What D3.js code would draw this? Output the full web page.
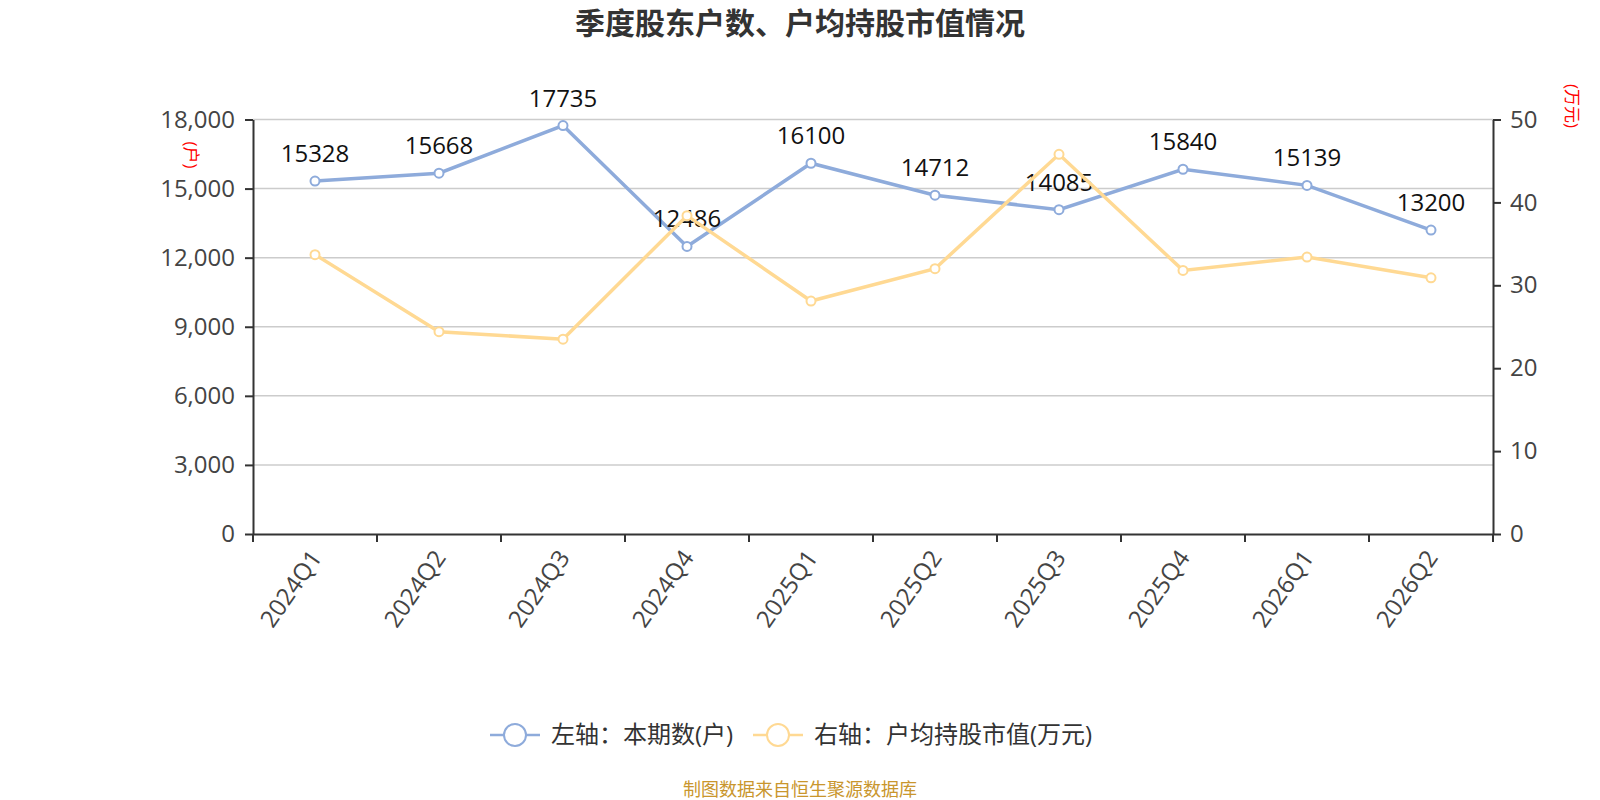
<!DOCTYPE html>
<meta charset="UTF-8">
<style>
body { margin: 0; background: #fff; }
text { font-family: "Open Sans", "Noto Sans CJK SC", sans-serif; }
.grid line { stroke: #cccccc; stroke-width: 1.5px; }
.axis path, .axis line { stroke: #333; stroke-width: 2px; }
.axis text { fill: #444; font-size: 24px; }
</style>
<body>
<script src="https://d3js.org/d3.v7.min.js"></script>
<script>

// data
var quarters = ["2024Q1", "2024Q2", "2024Q3", "2024Q4", "2025Q1", "2025Q2", "2025Q3", "2025Q4", "2026Q1", "2026Q2"];
var holders = [15328, 15668, 17735, 12486, 16100, 14712, 14085, 15840, 15139, 13200];
var avgValue = [33.7, 24.4, 23.5, 38.4, 28.1, 32.0, 45.8, 31.8, 33.4, 30.9];
var leftTicks = [0, 3000, 6000, 9000, 12000, 15000, 18000];
var rightTicks = [0, 10, 20, 30, 40, 50];

var blue = "#8eabdb",
    orange = "#ffd993";

var width = 1600, height = 800;
var plot = {left: 253, right: 1493, top: 119.5, bottom: 534};

var svg = d3.select("body").append("svg")
    .attr("width", width)
    .attr("height", height);

var x = d3.scaleBand().domain(quarters).range([plot.left, plot.right]);
var yL = d3.scaleLinear().domain([0, 18000]).range([plot.bottom, plot.top]);
var yR = d3.scaleLinear().domain([0, 50]).range([plot.bottom, plot.top]);

// title
svg.append("text")
    .attr("x", 800).attr("y", 34)
    .attr("text-anchor", "middle")
    .style("font-family", "'Noto Sans CJK SC', sans-serif")
    .style("font-weight", "bold")
    .style("font-size", "30px")
    .style("fill", "#333")
    .text("季度股东户数、户均持股市值情况");

// grid lines
svg.append("g").attr("class", "grid")
  .selectAll("line")
  .data(leftTicks.slice(1))
  .enter().append("line")
    .attr("x1", plot.left).attr("x2", plot.right)
    .attr("y1", function(d) { return yL(d); })
    .attr("y2", function(d) { return yL(d); });

// left axis
svg.append("g").attr("class", "axis")
    .attr("transform", "translate(" + plot.left + ",0)")
    .call(d3.axisLeft(yL).tickValues(leftTicks).tickFormat(d3.format(",")).tickSize(8).tickSizeOuter(0).tickPadding(10));

// right axis
svg.append("g").attr("class", "axis")
    .attr("transform", "translate(" + plot.right + ",0)")
    .call(d3.axisRight(yR).tickValues(rightTicks).tickSize(8).tickSizeOuter(0).tickPadding(9));

// bottom axis: labels at band centres, ticks at band edges
var xAxis = svg.append("g").attr("class", "axis")
    .attr("transform", "translate(0," + plot.bottom + ")")
    .call(d3.axisBottom(x).tickSize(0).tickSizeOuter(0).tickPadding(0));
xAxis.selectAll(".tick text")
    .attr("text-anchor", "end")
    .attr("dy", "0.35em")
    .attr("transform", "translate(1,19) rotate(-55)");
xAxis.selectAll(".edge")
    .data(d3.range(quarters.length + 1))
    .enter().append("line")
    .attr("class", "edge")
    .attr("x1", function(i) { return plot.left + i * x.step(); })
    .attr("x2", function(i) { return plot.left + i * x.step(); })
    .attr("y1", 0).attr("y2", 8);

// axis names
svg.append("text")
    .attr("transform", "translate(185,155) rotate(90)")
    .attr("text-anchor", "middle")
    .style("font-size", "17px").style("fill", "#ff0000")
    .text("(户)");
svg.append("text")
    .attr("transform", "translate(1566,106) rotate(90)")
    .attr("text-anchor", "middle")
    .style("font-size", "17px").style("fill", "#ff0000")
    .text("(万元)");

function cx(d, i) { return x(quarters[i]) + x.bandwidth() / 2; }

// left series
var lineL = d3.line().x(function(d, i) { return cx(d, i); }).y(function(d) { return yL(d); });
svg.append("path")
    .datum(holders)
    .attr("d", lineL)
    .attr("fill", "none").attr("stroke", blue).attr("stroke-width", 3.5);
svg.selectAll("circle.l")
    .data(holders).enter().append("circle")
    .attr("class", "l")
    .attr("cx", cx).attr("cy", function(d) { return yL(d); })
    .attr("r", 4.5).attr("fill", "#fff").attr("stroke", blue).attr("stroke-width", 2);
svg.selectAll("text.lab")
    .data(holders).enter().append("text")
    .attr("class", "lab")
    .attr("x", cx).attr("y", function(d) { return yL(d) - 19; })
    .attr("text-anchor", "middle")
    .style("font-size", "24px").style("fill", "#111")
    .text(function(d) { return d; });

// right series
var lineR = d3.line().x(function(d, i) { return cx(d, i); }).y(function(d) { return yR(d); });
svg.append("path")
    .datum(avgValue)
    .attr("d", lineR)
    .attr("fill", "none").attr("stroke", orange).attr("stroke-width", 3.5);
svg.selectAll("circle.r")
    .data(avgValue).enter().append("circle")
    .attr("class", "r")
    .attr("cx", cx).attr("cy", function(d) { return yR(d); })
    .attr("r", 4.5).attr("fill", "#fff").attr("stroke", orange).attr("stroke-width", 2);

// legend
var legend = [
  {name: "左轴：本期数(户)", color: blue, x: 490},
  {name: "右轴：户均持股市值(万元)", color: orange, x: 753}
];
var lg = svg.selectAll("g.legend")
    .data(legend).enter().append("g")
    .attr("class", "legend")
    .attr("transform", function(d) { return "translate(" + d.x + ",735)"; });
lg.append("line")
    .attr("x1", 0).attr("x2", 50).attr("y1", 0).attr("y2", 0)
    .attr("stroke", function(d) { return d.color; }).attr("stroke-width", 2.5);
lg.append("circle")
    .attr("cx", 25).attr("cy", 0).attr("r", 11)
    .attr("fill", "#fff").attr("stroke", function(d) { return d.color; }).attr("stroke-width", 2);
lg.append("text")
    .attr("x", 61).attr("y", 0).attr("dy", "0.35em")
    .style("font-size", "24px").style("fill", "#333")
    .text(function(d) { return d.name; });

// source note
svg.append("text")
    .attr("x", 800).attr("y", 796)
    .attr("text-anchor", "middle")
    .style("font-family", "'Noto Sans CJK SC', sans-serif")
    .style("font-size", "18px").style("fill", "#c9962d")
    .text("制图数据来自恒生聚源数据库");

</script>
</body>
